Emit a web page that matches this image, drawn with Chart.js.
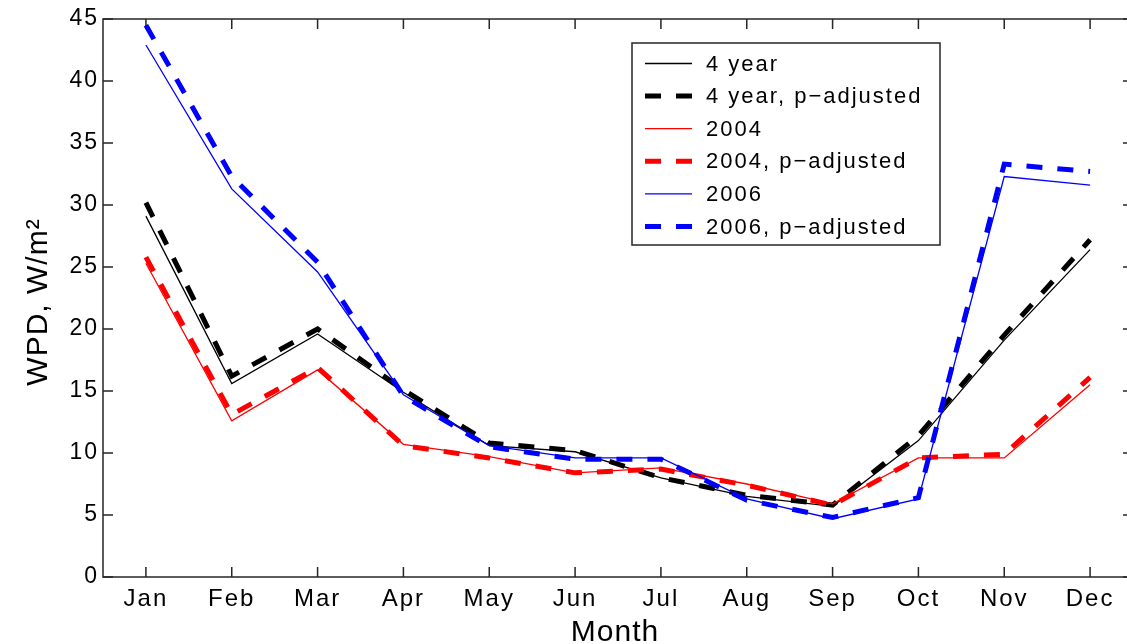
<!DOCTYPE html>
<html>
<head>
<meta charset="utf-8">
<script src="https://cdn.jsdelivr.net/npm/chart.js@4.4.1/dist/chart.umd.min.js"></script>
<style>
html,body{margin:0;padding:0;overflow:hidden;background:#fff;width:1127px;height:644px;}
#wrap{position:absolute;left:0;top:0;width:1140px;height:644px;}
</style>
</head>
<body>
<div id="wrap"><canvas id="c" width="1140" height="644"></canvas></div>
<script>
// ---- data ----
const months = ['Jan','Feb','Mar','Apr','May','Jun','Jul','Aug','Sep','Oct','Nov','Dec'];
const yTicks = [0,5,10,15,20,25,30,35,40,45];
const seriesNames = ['4 year','4 year, p\u2212adjusted','2004','2004, p\u2212adjusted','2006','2006, p\u2212adjusted'];
const fourYear      = [29.1, 15.6, 19.6, 14.9, 10.6, 10.1, 8.0, 6.5, 5.7, 11.0, 19.1, 26.4];
const fourYearAdj   = [30.2, 16.2, 20.0, 15.1, 10.8, 10.2, 8.0, 6.6, 5.8, 11.4, 19.5, 27.2];
const y2004         = [25.3, 12.6, 16.7, 10.7, 9.7, 8.4, 8.8, 7.5, 5.9, 9.6, 9.6, 15.5];
const y2004Adj      = [25.8, 13.1, 16.9, 10.6, 9.6, 8.4, 8.7, 7.4, 5.8, 9.6, 9.9, 16.1];
const y2006         = [42.9, 31.3, 24.6, 14.7, 10.6, 9.6, 9.6, 6.3, 4.7, 6.3, 32.3, 31.6];
const y2006Adj      = [44.5, 32.3, 25.4, 14.6, 10.5, 9.5, 9.5, 6.2, 4.8, 6.4, 33.3, 32.7];

const FONT = "'Liberation Sans', Arial, Helvetica, sans-serif";
const DASH = [16, 15];

function solid(label, data, color, order){
  return {label, data, borderColor: color, backgroundColor: color, borderWidth: 1.3,
          pointRadius: 0, tension: 0, fill: false, order};
}
function dashed(label, data, color, order){
  return {label, data, borderColor: color, backgroundColor: color, borderWidth: 5,
          borderDash: DASH, borderCapStyle: 'butt', pointRadius: 0, tension: 0, fill: false, order};
}

const datasets = [
  solid(seriesNames[0], fourYear, '#000000', 6),
  dashed(seriesNames[1], fourYearAdj, '#000000', 5),
  solid(seriesNames[2], y2004, '#ff0000', 4),
  dashed(seriesNames[3], y2004Adj, '#ff0000', 3),
  solid(seriesNames[4], y2006, '#0000ff', 2),
  dashed(seriesNames[5], y2006Adj, '#0000ff', 1)
];

const spacingPlugin = {
  id: 'spacing',
  beforeDraw(chart){ chart.ctx.letterSpacing = '2px'; },
  afterDraw(chart){ chart.ctx.letterSpacing = '0px'; }
};

const framePlugin = {
  id: 'frame',
  beforeDatasetsDraw(chart){
    const {ctx, chartArea: a, scales: {x, y}} = chart;
    ctx.save();
    ctx.strokeStyle = '#262626';
    ctx.lineWidth = 1.5;
    ctx.strokeRect(a.left, a.top, a.right - a.left, a.bottom - a.top);
    ctx.beginPath();
    months.forEach((m, i) => {
      const px = x.getPixelForValue(i);
      ctx.moveTo(px, a.bottom); ctx.lineTo(px, a.bottom - 10);
      ctx.moveTo(px, a.top); ctx.lineTo(px, a.top + 10);
    });
    yTicks.forEach(v => {
      const py = y.getPixelForValue(v);
      ctx.moveTo(a.left, py); ctx.lineTo(a.left + 10, py);
      ctx.moveTo(a.right, py); ctx.lineTo(a.right - 10, py);
    });
    ctx.stroke();
    ctx.restore();
  }
};

const textPlugin = {
  id: 'texts',
  afterDraw(chart){
    const {ctx} = chart;
    ctx.save();
    ctx.fillStyle = '#000';
    ctx.letterSpacing = '1px';
    ctx.font = '30px ' + FONT;
    ctx.textAlign = 'center';
    ctx.textBaseline = 'alphabetic';
    ctx.fillText('Month', 615, 641);
    ctx.translate(47, 302);
    ctx.rotate(-Math.PI / 2);
    ctx.fillText('WPD, W/m\u00B2', 0, 0);
    ctx.restore();

    // legend
    const box = {l: 632, t: 43, r: 940, b: 245};
    ctx.save();
    ctx.fillStyle = '#fff';
    ctx.fillRect(box.l, box.t, box.r - box.l, box.b - box.t);
    ctx.strokeStyle = '#262626';
    ctx.lineWidth = 1.5;
    ctx.strokeRect(box.l, box.t, box.r - box.l, box.b - box.t);
    ctx.font = '22px ' + FONT;
    ctx.letterSpacing = '2px';
    ctx.textAlign = 'left';
    ctx.textBaseline = 'middle';
    chart.data.datasets.forEach((ds, i) => {
      const cy = 63.5 + i * 32.6;
      ctx.beginPath();
      ctx.strokeStyle = ds.borderColor;
      ctx.lineWidth = ds.borderWidth;
      ctx.lineCap = 'butt';
      ctx.setLineDash(ds.borderDash || []);
      ctx.moveTo(645, cy); ctx.lineTo(692, cy);
      ctx.stroke();
      ctx.setLineDash([]);
      ctx.fillStyle = '#000';
      ctx.fillText(ds.label, 706, cy + 1);
    });
    ctx.restore();
  }
};

new Chart(document.getElementById('c').getContext('2d'), {
  type: 'line',
  data: {labels: months, datasets},
  options: {
    responsive: false,
    animation: false,
    devicePixelRatio: 1,
    layout: {padding: {left: 0, top: 19, right: 7, bottom: 0}},
    plugins: {legend: {display: false}, tooltip: {enabled: false}, title: {display: false}},
    scales: {
      x: {
        type: 'category', offset: true,
        grid: {display: false, drawTicks: false},
        border: {display: false},
        ticks: {padding: 8, color: '#000', font: {family: FONT, size: 24}, maxRotation: 0, autoSkip: false},
        afterFit(s){ s.height = 67; }
      },
      y: {
        min: 0, max: 45,
        grid: {display: false, drawTicks: false},
        border: {display: false},
        ticks: {padding: 4, color: '#000', font: {family: FONT, size: 23}},
        afterBuildTicks(s){ s.ticks = yTicks.map(v => ({value: v})); },
        afterFit(s){ s.width = 103; }
      }
    }
  },
  plugins: [spacingPlugin, framePlugin, textPlugin]
});
</script>
</body>
</html>
